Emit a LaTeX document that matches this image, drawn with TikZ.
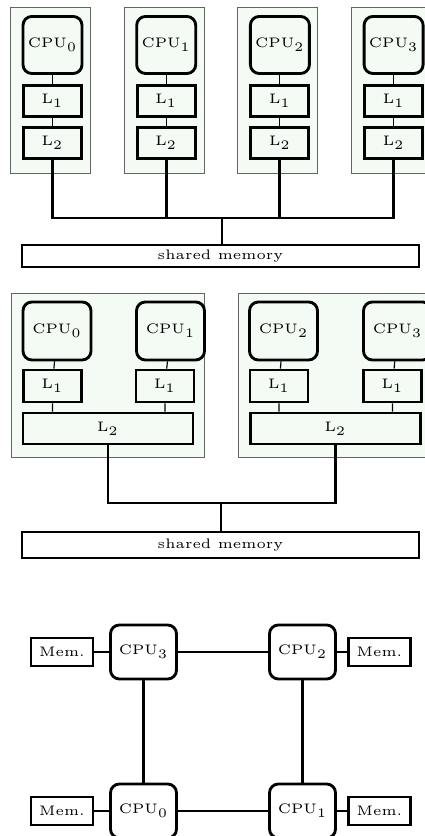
\documentclass[tikz,border=0pt]{standalone}
\usepackage{tikz}
\usetikzlibrary{positioning}
\definecolor{ChipGreen}{RGB}{244,251,244}
\definecolor{FrameGray}{RGB}{100,100,100}

\begin{document}
\begin{tikzpicture}[x=0.135cm,y=0.135cm,font=\fontsize{5.3}{6}\selectfont,
    cpu/.style={draw,line width=1.1pt,rounded corners=3.4pt,fill=ChipGreen,inner sep=0pt,
      minimum width=0.797cm,minimum height=0.77cm},
    cache/.style={draw,line width=1.1pt,fill=ChipGreen,inner sep=0pt,
      minimum width=0.783cm,minimum height=0.419cm},
    shmem/.style={draw,line width=1.1pt,fill=white,inner sep=0pt,minimum width=5.36cm},
    chip/.style={draw=FrameGray,line width=0.35pt,fill=ChipGreen},
    link/.style={line width=0.45pt},
    bus/.style={line width=1.1pt}]
  \useasboundingbox (0,0) rectangle (42.4,83.6);

  % private L1 and L2 per core
  \foreach \i/\x in {0/5.25,1/16.62,2/27.99,3/39.36}{
    \draw[chip] (\x-4.2,66.3) rectangle (\x+3.8,82.9);
    \node[cpu] (tc\i) at (\x,79.1) {CPU$_\i$};
    \node[cache] (ta\i) at (\x,73.5) {L$_1$};
    \node[cache] (tb\i) at (\x,69.3) {L$_2$};
    \draw[link] (tc\i) -- (ta\i) -- (tb\i);
  }
  \node[shmem,minimum height=0.297cm] (tmem) at (22.05,58.0) {shared memory};
  \coordinate (tbus) at (22.2,61.8);
  \draw[bus] (tb0.south) |- (tbus) -| (tb3.south);
  \draw[bus] (tb1.south) -- (tb1.south |- tbus);
  \draw[bus] (tb2.south) -- (tb2.south |- tbus);
  \draw[bus] (tbus) -- (tbus |- tmem.north);

  % shared L2 per pair of cores
  \draw[chip] (1.1,37.9) rectangle (20.4,54.3);
  \draw[chip] (23.8,37.9) rectangle (43.1,54.3);
  \foreach \i/\x/\y in {0/5.7/5.25,1/17.05/16.5,2/28.35/27.9,3/39.75/39.25}{
    \node[cpu,minimum width=0.918cm,minimum height=0.783cm] (mc\i) at (\x,50.5) {CPU$_\i$};
    \node[cache,minimum height=0.432cm] (ma\i) at (\y,45.0) {L$_1$};
  }
  \node[cache,minimum width=2.295cm] (mb0) at (10.8,40.75) {L$_2$};
  \node[cache,minimum width=2.295cm] (mb1) at (33.55,40.75) {L$_2$};
  \foreach \i/\j in {0/0,1/0,2/1,3/1}{
    \draw[link] (mc\i) -- (ma\i) -- (ma\i |- mb\j.north);
  }
  \node[shmem,minimum height=0.351cm] (mmem) at (22.05,29.1) {shared memory};
  \coordinate (mbus) at (22.1,33.3);
  \draw[bus] (mb0.south) |- (mbus) -| (mb1.south);
  \draw[bus] (mbus) -- (mbus |- mmem.north);

  % distributed memory
  \tikzset{cpu/.append style={fill=white,minimum width=0.891cm,minimum height=0.729cm},
    cache/.append style={fill=white,minimum width=0.837cm,minimum height=0.378cm}}
  \node[cpu] (n3) at (14.35,18.4) {CPU$_3$};
  \node[cpu] (n2) at (30.25,18.4) {CPU$_2$};
  \node[cpu] (n0) at (14.35,2.5) {CPU$_0$};
  \node[cpu] (n1) at (30.25,2.5) {CPU$_1$};
  \node[cache] (nm3) at (6.2,18.4) {Mem.};
  \node[cache] (nm2) at (37.95,18.4) {Mem.};
  \node[cache] (nm0) at (6.2,2.5) {Mem.};
  \node[cache] (nm1) at (37.95,2.5) {Mem.};
  \draw[bus] (n0) -- (n1) -- (n2) -- (n3) -- (n0);
  \draw[bus] (nm3) -- (n3) (n2) -- (nm2) (nm0) -- (n0) (n1) -- (nm1);
\end{tikzpicture}
\end{document}
